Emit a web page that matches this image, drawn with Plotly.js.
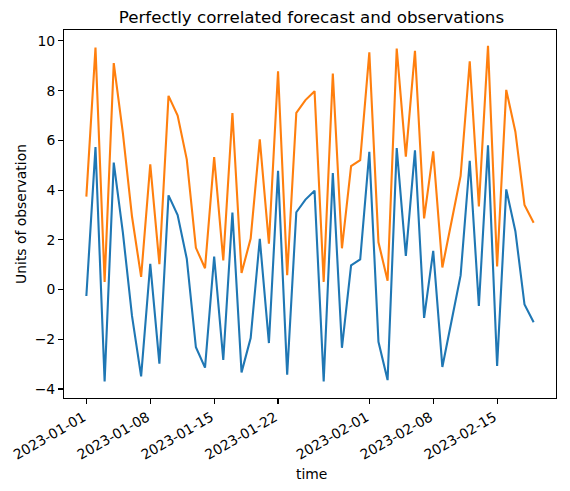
<!DOCTYPE html>
<html>
<head>
<meta charset="utf-8">
<script src="https://cdn.plot.ly/plotly-3.0.1.min.js"></script>
<style>html,body{margin:0;padding:0;background:#fff;}#chart{width:570px;height:491px;}</style>
</head>
<body>
<div id="chart"></div>
<script>
var startDate = "2023-01-01";
var numDays = 50;
var observations = [-0.26, 5.73, -3.69, 5.11, 2.29, -1.06, -3.49, 1.04, -2.98, 3.79,
  3.00, 1.24, -2.32, -3.14, 1.33, -2.83, 3.10, -3.33, -1.95, 2.04,
  -2.15, 4.78, -3.42, 3.11, 3.62, 3.98, -3.69, 4.69, -2.34, 0.97,
  1.21, 5.54, -2.10, -3.64, 5.69, 1.35, 5.60, -1.14, 1.56, -3.11,
  -1.27, 0.57, 5.18, -0.66, 5.80, -3.07, 4.03, 2.35, -0.60, -1.31];
var forecast = [3.74, 9.73, 0.31, 9.11, 6.29, 2.94, 0.51, 5.04, 1.02, 7.79,
  7.00, 5.24, 1.68, 0.86, 5.33, 1.17, 7.10, 0.67, 2.05, 6.04,
  1.85, 8.78, 0.58, 7.11, 7.62, 7.98, 0.31, 8.69, 1.66, 4.97,
  5.21, 9.54, 1.90, 0.36, 9.69, 5.35, 9.60, 2.86, 5.56, 0.89,
  2.73, 4.57, 9.18, 3.34, 9.80, 0.93, 8.03, 6.35, 3.40, 2.69];
var tickDates = ["2023-01-01", "2023-01-08", "2023-01-15", "2023-01-22", "2023-02-01", "2023-02-08", "2023-02-15"];
var tickLabels = ["2023-01-01", "2023-01-08", "2023-01-15", "2023-01-22", "2023-02-01", "2023-02-08", "2023-02-15"];
var yTicks = [-4, -2, 0, 2, 4, 6, 8, 10];

var dates = [];
var d0 = new Date(startDate + "T00:00:00Z");
for (var i = 0; i < numDays; i++) {
  var d = new Date(d0.getTime() + i * 86400000);
  dates.push(d.toISOString().slice(0, 10));
}

var font = {family: "DejaVu Sans, sans-serif", color: "#000", size: 13.9};
var traces = [
  {x: dates, y: observations, type: "scatter", mode: "lines", line: {color: "#1f77b4", width: 2.1}, name: "observations"},
  {x: dates, y: forecast, type: "scatter", mode: "lines", line: {color: "#ff7f0e", width: 2.1}, name: "forecast"}
];
var axisCommon = {
  showgrid: false, zeroline: false, showline: true, mirror: true,
  linecolor: "#000", linewidth: 1.1, ticks: "outside", ticklen: 4.9,
  tickwidth: 1.1, tickcolor: "#000", tickfont: font, automargin: false
};
var layout = {
  width: 570, height: 491,
  margin: {l: 64.3, r: 13.5, t: 30.3, b: 93},
  paper_bgcolor: "#fff", plot_bgcolor: "#fff",
  showlegend: false,
  font: font,
  title: {text: "Perfectly correlated forecast and observations", font: {family: "DejaVu Sans, sans-serif", size: 16.7, color: "#000"}, x: 0.5464, xanchor: "center", y: 0.9646, yanchor: "middle"},
  xaxis: Object.assign({}, axisCommon, {
    type: "date",
    range: ["2022-12-29 13:12", "2023-02-21 10:48"],
    tickmode: "array", tickvals: tickDates, ticktext: tickLabels, tickangle: -30,
    ticklabelstandoff: 3.5, ticklabelshift: -3
  }),
  yaxis: Object.assign({}, axisCommon, {
    range: [-4.36, 10.44],
    tickmode: "array", tickvals: yTicks, ticktext: yTicks.map(function(v){return v < 0 ? "\u2212" + Math.abs(v) : String(v);}),
    title: {text: "Units of observation", font: font, standoff: 4}
  }),
  annotations: [
    {text: "time", xref: "paper", yref: "paper", x: 0.5022, y: -0.2067, xanchor: "center", yanchor: "middle", showarrow: false, font: font}
  ]
};
Plotly.newPlot("chart", traces, layout, {displayModeBar: false, staticPlot: true});
</script>
</body>
</html>
